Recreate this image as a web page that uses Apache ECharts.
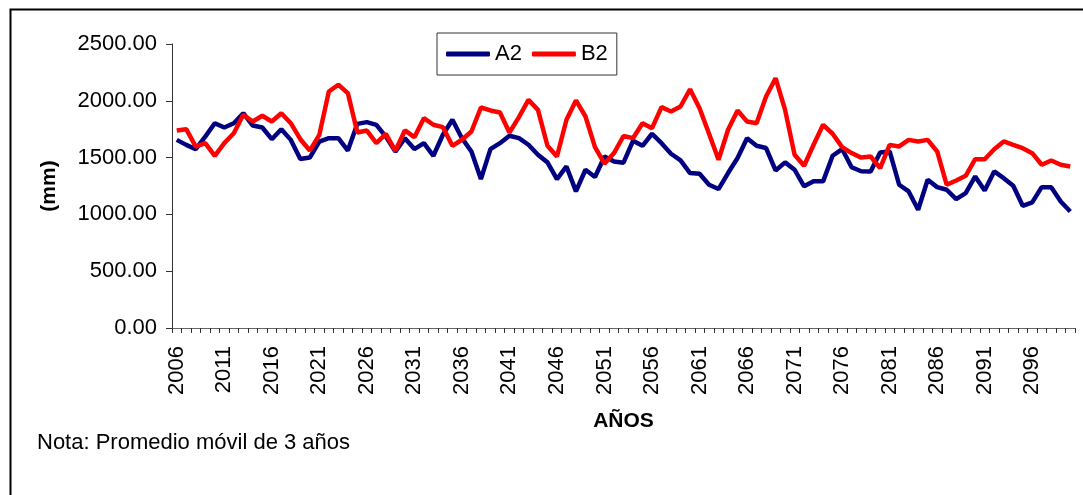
<!DOCTYPE html>
<html>
<head>
<meta charset="utf-8">
<script src="https://cdn.jsdelivr.net/npm/echarts@6/dist/echarts.min.js"></script>
<style>
html,body{margin:0;padding:0;background:#fff;}
#chart{width:1083px;height:495px;}
</style>
</head>
<body>
<div id="chart"></div>
<script>
var years = [];
for (var y = 2006; y <= 2100; y++) years.push(String(y));

var seriesNames = ['A2', 'B2'];

var a2 = [1656,1612,1574,1685,1803,1765,1803,1891,1782,1765,
          1662,1750,1656,1488,1500,1641,1671,1671,1562,1797,
          1812,1788,1685,1553,1671,1575,1627,1516,1701,1833,
          1671,1554,1311,1575,1627,1692,1671,1613,1525,1458,
          1311,1422,1203,1393,1329,1510,1466,1455,1648,1604,
          1710,1627,1534,1475,1364,1358,1261,1223,1364,1496,
          1671,1604,1584,1387,1458,1393,1247,1291,1291,1516,
          1575,1415,1380,1378,1545,1554,1261,1202,1041,1305,
          1240,1217,1135,1188,1334,1211,1378,1319,1252,1076,
          1106,1240,1240,1114,1026];

var b2 = [1738,1750,1597,1627,1515,1627,1715,1877,1818,1868,
          1818,1891,1803,1662,1562,1700,2082,2141,2068,1721,
          1738,1627,1709,1560,1739,1680,1847,1789,1768,1604,
          1657,1730,1941,1915,1897,1721,1856,2008,1920,1604,
          1510,1833,2003,1862,1592,1446,1540,1690,1671,1803,
          1759,1944,1906,1950,2102,1935,1710,1481,1745,1915,
          1818,1803,2038,2199,1920,1525,1428,1613,1789,1710,
          1592,1540,1500,1510,1407,1612,1598,1656,1642,1656,
          1554,1261,1299,1340,1486,1486,1574,1642,1612,1583,
          1539,1437,1475,1437,1422];

var yTicks = [0, 500, 1000, 1500, 2000, 2500];

var chart = echarts.init(document.getElementById('chart'));
var font = 'Liberation Sans, Arial, sans-serif';
chart.setOption({
  backgroundColor: '#ffffff',
  animation: false,
  textStyle: { fontFamily: font, color: '#000' },
  graphic: [
    { type: 'rect', left: 8, top: 7, shape: { width: 1100, height: 520 },
      style: { fill: 'none', stroke: '#000', lineWidth: 2 } },
    { type: 'text', left: 37, top: 432,
      style: { text: 'Nota: Promedio móvil de 3 años', fontSize: 22, fontFamily: font, fill: '#000' } }
  ],
  legend: {
    left: 437, top: 33,
    padding: [10, 9, 10, 9],
    itemGap: 10,
    itemWidth: 44, itemHeight: 5,
    icon: 'roundRect',
    borderColor: '#333', borderWidth: 1,
    textStyle: { fontSize: 22, fontFamily: font, color: '#000' },
    data: seriesNames
  },
  grid: { left: 172, right: 8, top: 44, bottom: 167, containLabel: false },
  xAxis: {
    type: 'category',
    data: years,
    boundaryGap: true,
    name: 'AÑOS',
    nameLocation: 'middle',
    nameGap: 83,
    nameTextStyle: { fontSize: 21, fontWeight: 'bold', fontFamily: font, color: '#000' },
    axisLine: { lineStyle: { color: '#666', width: 1 } },
    axisTick: { show: true, interval: 0, length: 5, lineStyle: { color: '#333' } },
    axisLabel: { interval: 4, rotate: 90, margin: 18, fontSize: 22, fontFamily: font, color: '#000' },
    splitLine: { show: false }
  },
  yAxis: {
    type: 'value',
    min: yTicks[0], max: yTicks[yTicks.length - 1], interval: 500,
    name: '(mm)',
    nameLocation: 'middle',
    nameGap: 112,
    nameRotate: 90,
    nameTextStyle: { fontSize: 21, fontWeight: 'bold', fontFamily: font, color: '#000' },
    axisLine: { show: true, lineStyle: { color: '#333', width: 1 } },
    axisTick: { show: true, length: 6, lineStyle: { color: '#333' } },
    axisLabel: { margin: 15, fontSize: 22, fontFamily: font, color: '#000',
      formatter: function (v) { return v.toFixed(2); } },
    splitLine: { show: false }
  },
  series: [
    { name: seriesNames[0], type: 'line', data: a2, symbol: 'none',
      lineStyle: { color: '#000080', width: 4.5 }, itemStyle: { color: '#000080' } },
    { name: seriesNames[1], type: 'line', data: b2, symbol: 'none',
      lineStyle: { color: '#ff0000', width: 4.5 }, itemStyle: { color: '#ff0000' } }
  ]
});
</script>
</body>
</html>
